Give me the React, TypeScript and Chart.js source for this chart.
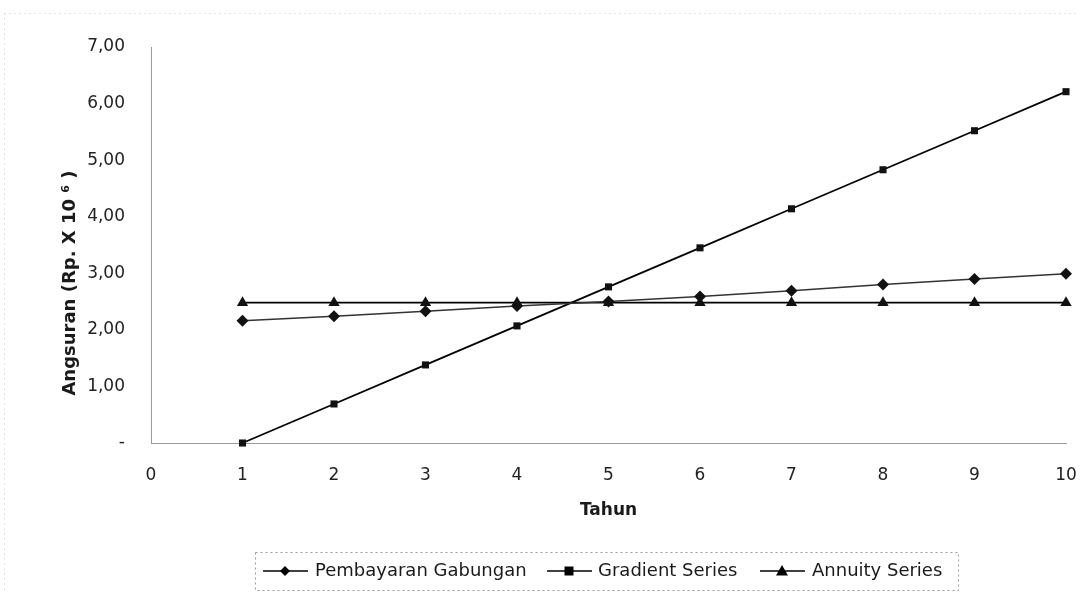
import React, { useEffect, useRef } from "react";
import { Chart, registerables } from "chart.js";

Chart.register(...registerables);

const years = [1, 2, 3, 4, 5, 6, 7, 8, 9, 10];
const pembayaranGabungan = [2.16, 2.24, 2.33, 2.42, 2.5, 2.59, 2.69, 2.8, 2.9, 2.99];
const gradientSeries = [0, 0.69, 1.38, 2.07, 2.76, 3.45, 4.14, 4.83, 5.52, 6.21];
const annuitySeries = [2.48, 2.48, 2.48, 2.48, 2.48, 2.48, 2.48, 2.48, 2.48, 2.48];
const seriesLabels = ["Pembayaran Gabungan", "Gradient Series", "Annuity Series"];
const xTitle = "Tahun";
const yTitle = "Angsuran (Rp. X 10 \u2076 )";

const FONT = "'DejaVu Sans', 'Liberation Sans', Arial, sans-serif";

function drawMarker(ctx: CanvasRenderingContext2D, style: string, x: number, y: number, r: number) {
  ctx.beginPath();
  if (style === "rectRot") {
    ctx.moveTo(x, y - r);
    ctx.lineTo(x + r, y);
    ctx.lineTo(x, y + r);
    ctx.lineTo(x - r, y);
    ctx.closePath();
  } else if (style === "rect") {
    ctx.rect(x - r, y - r, 2 * r, 2 * r);
  } else {
    ctx.moveTo(x, y - r);
    ctx.lineTo(x + r, y + r * 0.75);
    ctx.lineTo(x - r, y + r * 0.75);
    ctx.closePath();
  }
  ctx.fill();
}

const decorPlugin = {
  id: "decor",
  afterDraw(chart: any) {
    const ctx: CanvasRenderingContext2D = chart.ctx;
    const area = chart.chartArea;
    ctx.save();
    // faint outer border
    ctx.strokeStyle = "#c8c8c8";
    ctx.lineWidth = 1;
    ctx.setLineDash([1, 4]);
    ctx.beginPath();
    ctx.moveTo(4.5, 13.5);
    ctx.lineTo(1079.5, 13.5);
    ctx.moveTo(4.5, 13.5);
    ctx.lineTo(4.5, 592);
    ctx.stroke();
    ctx.setLineDash([]);

    // axis titles
    ctx.fillStyle = "#1a1a1a";
    ctx.font = `bold 17px ${FONT}`;
    ctx.textAlign = "center";
    ctx.textBaseline = "middle";
    ctx.fillText(xTitle, (area.left + area.right) / 2, 511);
    ctx.save();
    ctx.translate(70, 283);
    ctx.rotate(-Math.PI / 2);
    ctx.font = `bold 18px ${FONT}`;
    ctx.fillText(yTitle, 0, 0);
    ctx.restore();

    // legend box
    ctx.strokeStyle = "#9a9a9a";
    ctx.setLineDash([2, 3]);
    ctx.strokeRect(255.5, 552.5, 703, 38);
    ctx.setLineDash([]);

    const sampleX = [263, 547, 760];
    const textX = [315, 598, 812];
    const styles = ["rectRot", "rect", "triangle"];
    const radii = [5, 4.5, 6];
    const ly = 571;
    ctx.font = `18px ${FONT}`;
    ctx.textAlign = "left";
    chart.data.datasets.forEach((ds: any, i: number) => {
      ctx.strokeStyle = "#000";
      ctx.fillStyle = "#000";
      ctx.lineWidth = 1.5;
      ctx.beginPath();
      ctx.moveTo(sampleX[i], ly);
      ctx.lineTo(sampleX[i] + 45, ly);
      ctx.stroke();
      drawMarker(ctx, styles[i], sampleX[i] + 22, ly, radii[i]);
      ctx.fillStyle = "#1a1a1a";
      ctx.fillText(ds.label, textX[i], ly);
    });
    ctx.restore();
  },
};

export default function App() {
  const canvasRef = useRef<HTMLCanvasElement | null>(null);

  useEffect(() => {
    const canvas = canvasRef.current;
    if (!canvas) return;
    const toPts = (arr: number[]) => years.map((x, i) => ({ x, y: arr[i] }));
    const chart = new Chart(canvas, {
      type: "line",
      data: {
        datasets: [
          {
            label: seriesLabels[0],
            data: toPts(pembayaranGabungan),
            borderColor: "#333",
            backgroundColor: "#111",
            borderWidth: 1.5,
            pointStyle: "rectRot",
            pointRadius: 6,
            pointBorderWidth: 0,
            clip: false,
          },
          {
            label: seriesLabels[1],
            data: toPts(gradientSeries),
            borderColor: "#000",
            backgroundColor: "#111",
            borderWidth: 1.8,
            pointStyle: "rect",
            pointRadius: 5,
            pointBorderWidth: 0,
            clip: false,
          },
          {
            label: seriesLabels[2],
            data: toPts(annuitySeries),
            borderColor: "#000",
            backgroundColor: "#111",
            borderWidth: 1.8,
            pointStyle: "triangle",
            pointRadius: 6.5,
            pointBorderWidth: 0,
            clip: false,
          },
        ],
      },
      options: {
        animation: false,
        responsive: false,
        maintainAspectRatio: false,
        layout: { padding: { left: 0, top: 47, right: 18, bottom: 0 } },
        plugins: { legend: { display: false }, tooltip: { enabled: false } },
        scales: {
          x: {
            type: "linear",
            min: 0,
            max: 10,
            grid: { display: false, drawTicks: false },
            border: { display: true, color: "#9a9a9a", dash: [2, 2], width: 1 },
            ticks: {
              stepSize: 1,
              padding: 22,
              color: "#222",
              font: { family: FONT, size: 17 },
              maxRotation: 0,
            },
            afterFit(scale: any) {
              scale.height = 150;
              scale.paddingLeft = 0;
              scale.paddingRight = 0;
            },
          },
          y: {
            min: 0,
            max: 7,
            grid: { display: false, drawTicks: false },
            border: { display: true, color: "#9a9a9a", dash: [2, 2], width: 1 },
            ticks: {
              stepSize: 1,
              padding: 26,
              color: "#222",
              font: { family: FONT, size: 17 },
              callback: (v: any) => (Number(v) === 0 ? "-" : Number(v).toFixed(2).replace(".", ",")),
            },
            afterFit(scale: any) {
              scale.width = 151;
              scale.paddingTop = 0;
              scale.paddingBottom = 0;
            },
          },
        },
      },
      plugins: [decorPlugin],
    });
    return () => chart.destroy();
  }, []);

  return (
    <div style={{ position: "fixed", left: 0, top: 0, width: 1084, height: 593, background: "#fff" }}>
      <canvas ref={canvasRef} width={1084} height={593} style={{ width: 1084, height: 593, display: "block" }} />
    </div>
  );
}
